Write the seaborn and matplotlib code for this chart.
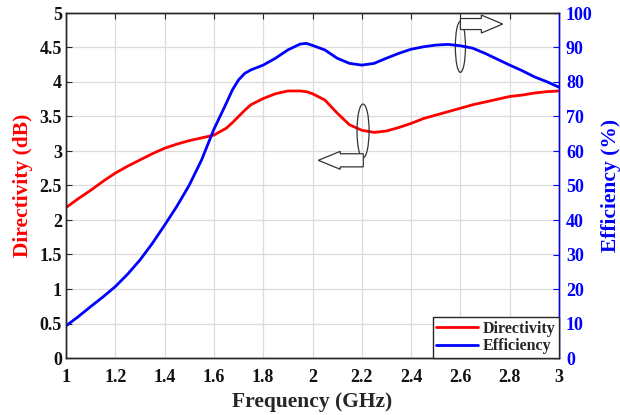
import matplotlib
matplotlib.use("Agg")
import matplotlib.pyplot as plt
import matplotlib.patches as mpatches
import seaborn as sns
import pandas as pd

# Frequency sweep (GHz)
freq = [1.00, 1.05, 1.10, 1.15, 1.20, 1.25, 1.30, 1.35, 1.40, 1.45,
        1.50, 1.55, 1.60, 1.65, 1.675, 1.70, 1.725, 1.75, 1.80, 1.85, 1.90, 1.95,
        1.975, 2.00, 2.05, 2.10, 2.15, 2.20, 2.25, 2.30, 2.35, 2.40, 2.45,
        2.50, 2.55, 2.60, 2.65, 2.70, 2.75, 2.80, 2.85, 2.90, 2.95, 3.00]

# Directivity (dB)
directivity = [2.18, 2.31, 2.43, 2.56, 2.68, 2.78, 2.87, 2.96, 3.04, 3.10,
               3.15, 3.19, 3.23, 3.33, 3.41, 3.50, 3.59, 3.67, 3.76, 3.83, 3.87, 3.87,
               3.86, 3.83, 3.74, 3.55, 3.38, 3.30, 3.27, 3.29, 3.34, 3.40, 3.47,
               3.52, 3.57, 3.62, 3.67, 3.71, 3.75, 3.79, 3.81, 3.84, 3.86, 3.87]

# Radiation efficiency (%)
efficiency = [9.3, 12.0, 14.9, 17.7, 20.7, 24.3, 28.4, 33.2, 38.5, 44.0,
              50.1, 57.4, 66.3, 73.8, 77.7, 80.6, 82.5, 83.5, 84.9, 86.9, 89.3, 91.0,
              91.2, 90.6, 89.3, 86.9, 85.4, 84.9, 85.4, 86.9, 88.3, 89.5, 90.2,
              90.7, 90.9, 90.5, 89.8, 88.3, 86.6, 84.9, 83.3, 81.5, 80.1, 78.5]

x_ticks = [1, 1.2, 1.4, 1.6, 1.8, 2, 2.2, 2.4, 2.6, 2.8, 3]
x_ticklabels = ["1", "1.2", "1.4", "1.6", "1.8", "2", "2.2", "2.4", "2.6", "2.8", "3"]
left_ticks = [0, 0.5, 1, 1.5, 2, 2.5, 3, 3.5, 4, 4.5, 5]
left_ticklabels = ["0", "0.5", "1", "1.5", "2", "2.5", "3", "3.5", "4", "4.5", "5"]
right_ticks = [0, 10, 20, 30, 40, 50, 60, 70, 80, 90, 100]

sns.set_style("white")
plt.rcParams["font.family"] = ["Liberation Serif", "DejaVu Serif"]
plt.rcParams["font.weight"] = "bold"

RED = "#ff0000"
BLUE = "#0000ff"

df = pd.DataFrame({"freq": freq, "dir": directivity, "eff": efficiency})

fig = plt.figure(figsize=(6.2, 4.15), dpi=100)
ax = fig.add_axes([66 / 620, 57 / 415, 493 / 620, 345 / 415])
ax2 = ax.twinx()

sns.lineplot(data=df, x="freq", y="dir", ax=ax, color=RED, linewidth=2.0,
             label="Directivity", legend=False)
sns.lineplot(data=df, x="freq", y="eff", ax=ax2, color=BLUE, linewidth=2.0,
             label="Efficiency", legend=False)
for ln in ax.get_lines() + ax2.get_lines():
    ln.set_solid_joinstyle("round")

ax.set_xlim(1, 3)
ax.set_ylim(0, 5)
ax2.set_ylim(0, 100)
ax.set_xticks(x_ticks)
ax.set_xticklabels(x_ticklabels)
ax.set_yticks(left_ticks)
ax.set_yticklabels(left_ticklabels)
ax2.set_yticks(right_ticks)

ax.grid(True, color="#dcdcdc", linewidth=0.9)
ax.set_axisbelow(True)

for a in (ax, ax2):
    for s in a.spines.values():
        s.set_linewidth(1.0)
        s.set_color("#262626")
ax2.spines["right"].set_color(BLUE)

ax.tick_params(axis="both", direction="in", length=4, width=0.8,
               labelsize=13, colors="#262626", labelcolor="#111111", top=True)
ax.tick_params(axis="x", pad=8)
ax.tick_params(axis="y", right=False, pad=3)
ax2.tick_params(axis="y", direction="in", length=4, width=0.8, colors=BLUE,
                labelcolor=BLUE, labelsize=13, pad=5)
for lab in ax.get_xticklabels() + ax.get_yticklabels() + ax2.get_yticklabels():
    lab.set_fontweight("bold")

ax.set_xlabel("Frequency (GHz)", fontsize=15.5, fontweight="bold", labelpad=4)
ax.set_ylabel("Directivity (dB)", fontsize=15.5, fontweight="bold", color=RED, labelpad=5)
ax2.set_ylabel("Efficiency (%)", fontsize=15.5, fontweight="bold", color=BLUE, labelpad=6)

# Callout ellipses and hollow arrows pointing at the matching axis
edge = "#333333"
ax.add_patch(mpatches.Ellipse((2.205, 3.29), 0.049, 0.78, fill=False,
                              edgecolor=edge, linewidth=0.9, zorder=5))
ax.add_patch(mpatches.FancyArrow(2.206, 2.865, -0.1825, 0, width=0.19,
                                 head_width=0.26, head_length=0.089,
                                 length_includes_head=True, facecolor="white",
                                 edgecolor=edge, linewidth=0.9, zorder=5))
ax.add_patch(mpatches.Ellipse((2.6, 4.51), 0.041, 0.74, fill=False,
                              edgecolor=edge, linewidth=0.9, zorder=5))
ax.add_patch(mpatches.FancyArrow(2.6, 4.84, 0.1716, 0, width=0.16,
                                 head_width=0.26, head_length=0.0866,
                                 length_includes_head=True, facecolor="white",
                                 edgecolor=edge, linewidth=0.9, zorder=5))

handles = ax.get_lines()[:1] + ax2.get_lines()[:1]
leg = ax2.legend(handles, ["Directivity", "Efficiency"], loc="lower right",
                 bbox_to_anchor=(1, 0), borderaxespad=0,
                 handlelength=2.6, handletextpad=0.3, borderpad=0.22,
                 labelspacing=0.12, fancybox=False, framealpha=1,
                 edgecolor="#262626", prop={"weight": "bold", "size": 11.5})
leg.get_frame().set_linewidth(1.0)

fig.savefig("out.png", dpi=100)
